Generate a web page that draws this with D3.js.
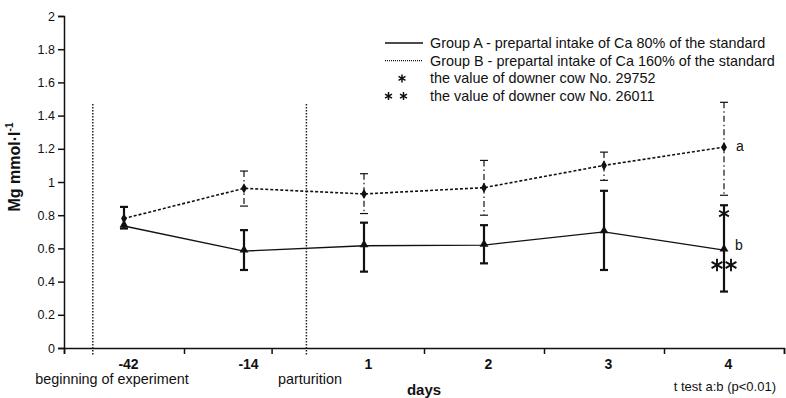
<!DOCTYPE html>
<meta charset="utf-8">
<style>
  body { margin: 0; background: #fff; }
  svg { font-family: "Liberation Sans", Arial, Helvetica, sans-serif; }
  .axis path, .axis line { stroke: #111; stroke-width: 1.5px; }
  .axis text { fill: #111; font-size: 12.5px; }
  .xlab text { font-weight: bold; font-size: 14px; }
</style>
<svg width="786" height="398"></svg>
<script src="https://d3js.org/d3.v7.min.js"></script>
<script>

  // values
  var days = ["-42", "-14", "1", "2", "3", "4"];
  var groupA   = [0.735, 0.584, 0.616, 0.62, 0.70, 0.59];
  var groupAHi = [0.85, 0.71, 0.755, 0.74, 0.947, 0.86];
  var groupALo = [0.72, 0.47, 0.46, 0.51, 0.47, 0.34];
  var groupB   = [0.78, 0.962, 0.928, 0.966, 1.10, 1.21];
  var groupBHi = [0.78, 1.066, 1.05, 1.13, 1.18, 1.48];
  var groupBLo = [0.78, 0.855, 0.81, 0.80, 1.01, 0.92];
  var cow29752 = 0.81, cow26011 = 0.50;   // both on day 4
  var yTicks = d3.range(0, 11).map(function(i) { return i * 0.2; });
  var legendLabels = [
    "Group A - prepartal intake of Ca 80% of the standard",
    "Group B - prepartal intake of Ca 160% of the standard",
    "the value of downer cow No. 29752",
    "the value of downer cow No. 26011"
  ];

  var svg = d3.select("svg"),
      margin = {left: 64, right: 784, top: 16, bottom: 348};

  // x runs in "slots": one slot per sampling day, points at slot centres
  var x = d3.scaleLinear().domain([0, 6]).range([margin.left, margin.right]),
      y = d3.scaleLinear().domain([0, 2]).range([margin.bottom, margin.top]);
  var cx = function(d, i) { return x(i + 0.5); };

  // axes
  svg.append("g")
      .attr("class", "axis")
      .attr("transform", "translate(" + margin.left + ",0)")
      .call(d3.axisLeft(y).tickValues(yTicks).tickSize(6).tickPadding(3)
        .tickFormat(function(d) { return String(+d.toFixed(1)); }));

  svg.append("g")
      .attr("class", "axis")
      .attr("transform", "translate(0," + margin.bottom + ")")
      .call(d3.axisBottom(x).tickValues([0, 1, 1.73, 3, 4, 5, 6]).tickSize(6).tickFormat(""));

  svg.append("g")
      .attr("class", "axis xlab")
      .attr("transform", "translate(4," + margin.bottom + ")")
      .call(d3.axisBottom(x).tickValues(d3.range(6).map(function(i) { return i + 0.5; }))
        .tickSize(0).tickPadding(11)
        .tickFormat(function(d) { return days[Math.floor(d)]; }))
      .call(function(g) { g.select(".domain").remove(); });

  // event markers
  [0.24, 2.02].forEach(function(s) {
    svg.append("line")
        .attr("x1", x(s)).attr("x2", x(s))
        .attr("y1", 104).attr("y2", 356)
        .attr("stroke", "#222").attr("stroke-width", 1.5)
        .attr("stroke-dasharray", "1.5,1.5");
  });

  var notes = svg.append("g").attr("fill", "#111").attr("font-size", 14.4);
  notes.append("text").attr("x", x(0.4)).attr("y", 384).attr("text-anchor", "middle").text("beginning of experiment");
  notes.append("text").attr("x", x(2.05)).attr("y", 384).attr("text-anchor", "middle").text("parturition");
  notes.append("text").attr("x", x(3)).attr("y", 395).attr("text-anchor", "middle")
      .attr("font-weight", "bold").attr("font-size", 15).text("days");
  notes.append("text").attr("x", 776).attr("y", 391).attr("text-anchor", "end")
      .attr("font-size", 13).text("t test a:b (p<0.01)");

  var ylab = svg.append("text")
      .attr("transform", "translate(20,167) rotate(-90)")
      .attr("text-anchor", "middle")
      .attr("font-weight", "bold").attr("font-size", 16).attr("fill", "#111");
  ylab.append("tspan").text("Mg mmol\u00b7l");
  ylab.append("tspan").attr("dy", -7).attr("font-size", 10).text("-1");

  // error bars
  function errorBars(hi, lo, width, dash) {
    var g = svg.append("g").attr("stroke", "#111").attr("stroke-width", width);
    hi.forEach(function(h, i) {
      if (h === lo[i]) return;
      var px = x(i + 0.5);
      g.append("line").attr("x1", px).attr("x2", px).attr("y1", y(h)).attr("y2", y(lo[i]))
          .attr("stroke-dasharray", dash);
      g.append("line").attr("x1", px - 4).attr("x2", px + 4).attr("y1", y(h)).attr("y2", y(h));
      g.append("line").attr("x1", px - 4).attr("x2", px + 4).attr("y1", y(lo[i])).attr("y2", y(lo[i]));
    });
  }
  errorBars(groupBHi, groupBLo, 1.2, "6,3,1.5,3");
  errorBars(groupAHi, groupALo, 2.2, null);

  // lines
  var line = d3.line().x(cx).y(function(d) { return y(d); });
  svg.append("path").datum(groupB).attr("d", line)
      .attr("fill", "none").attr("stroke", "#111").attr("stroke-width", 1.6)
      .attr("stroke-dasharray", "3,2");
  svg.append("path").datum(groupA).attr("d", line)
      .attr("fill", "none").attr("stroke", "#111").attr("stroke-width", 1.3);

  // markers
  svg.append("g").selectAll("path").data(groupB).join("path")
      .attr("transform", function(d, i) { return "translate(" + cx(d, i) + "," + y(d) + ")"; })
      .attr("d", d3.symbol(d3.symbolDiamond, 30))
      .attr("fill", "#111");
  svg.append("g").selectAll("path").data(groupA).join("path")
      .attr("transform", function(d, i) { return "translate(" + cx(d, i) + "," + (y(d) - 1) + ")"; })
      .attr("d", d3.symbol(d3.symbolTriangle, 34))
      .attr("fill", "#111");

  // significance letters
  svg.append("text").attr("x", cx(0, 5) + 12).attr("y", y(groupB[5]) + 4)
      .attr("font-size", 14).attr("fill", "#111").text("a");
  svg.append("text").attr("x", cx(0, 5) + 11).attr("y", y(groupA[5]) - 0)
      .attr("font-size", 14).attr("fill", "#111").text("b");

  // downer cows
  var star = function(size) { return d3.symbol(d3.symbolAsterisk, size)(); };
  function stars(g, px, py, n, size, gap, w) {
    for (var k = 0; k < n; k++) {
      g.append("path")
          .attr("transform", "translate(" + (px + (k - (n - 1) / 2) * gap) + "," + py + ")")
          .attr("d", star(size))
          .attr("fill", "none").attr("stroke", "#111").attr("stroke-width", w);
    }
  }
  var sg = svg.append("g");
  stars(sg, cx(0, 5), y(cow29752), 1, 90, 0, 1.8);
  stars(sg, cx(0, 5), y(cow26011), 2, 110, 14, 1.9);

  // legend
  var legend = svg.append("g").attr("font-size", 14.4).attr("fill", "#111");
  legendLabels.forEach(function(t, i) {
    var ly = 43 + i * 17.7;
    legend.append("text").attr("x", 430).attr("y", ly + 5).text(t);
  });
  legend.append("line").attr("x1", 385).attr("x2", 423).attr("y1", 43).attr("y2", 43)
      .attr("stroke", "#111").attr("stroke-width", 1.3);
  legend.append("line").attr("x1", 385).attr("x2", 423).attr("y1", 60.7).attr("y2", 60.7)
      .attr("stroke", "#111").attr("stroke-width", 1.3).attr("stroke-dasharray", "1,1");
  stars(legend, 402, 78.4, 1, 45, 0, 1.5);
  stars(legend, 396, 96.1, 2, 45, 15, 1.5);

</script>
